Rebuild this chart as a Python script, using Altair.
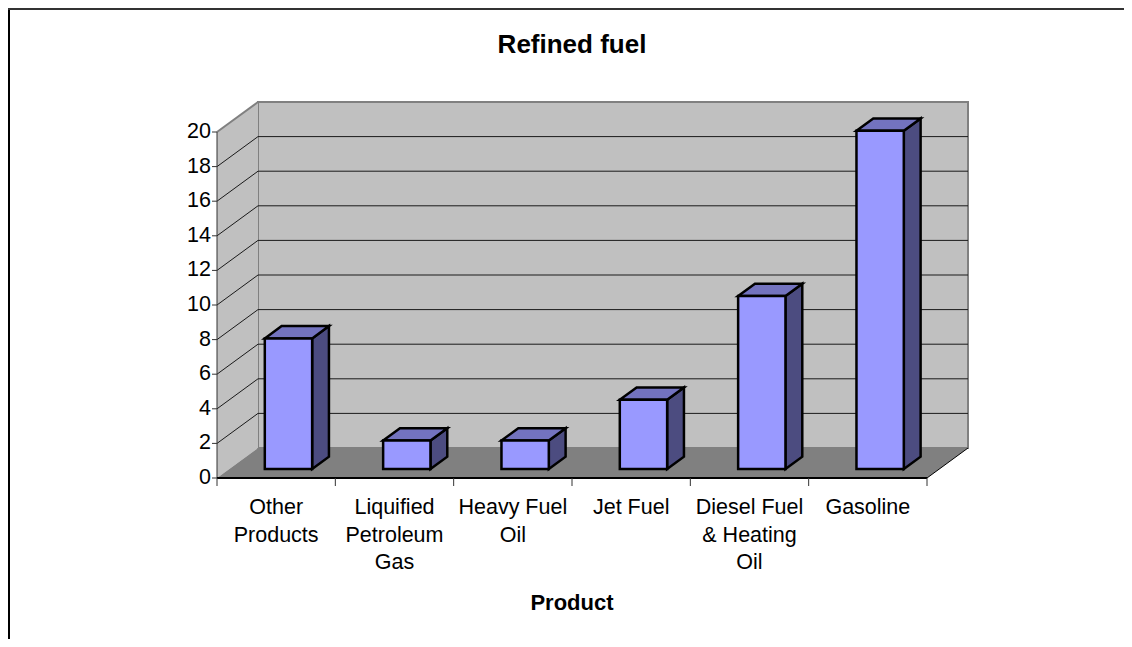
import altair as alt
import pandas as pd

# ---- data ----
categories = ["Other Products", "Liquified Petroleum Gas", "Heavy Fuel Oil",
              "Jet Fuel", "Diesel Fuel & Heating Oil", "Gasoline"]
label_text = ["Other\nProducts", "Liquified\nPetroleum\nGas", "Heavy Fuel\nOil",
              "Jet Fuel", "Diesel Fuel\n& Heating\nOil", "Gasoline"]
values = [7.55, 1.65, 1.65, 4.0, 10.0, 19.55]
y_ticks = [0, 2, 4, 6, 8, 10, 12, 14, 16, 18, 20]
grid_values = [2, 4, 6, 8, 10, 12, 14, 16, 18]
title_text = "Refined fuel"
x_title = "Product"

# ---- projection / style constants ----
N = len(categories)
YMAX = 20
DX = 0.3465   # wall depth along x (category units)
DY = 1.734    # wall depth along y (value units)
F0, F1 = 0.30, 0.71   # depth fraction of bar front / back faces
HALF = 0.2            # half bar width (category units)
W, H = 1116, 631
FONT = "Liberation Sans"

xs = alt.Scale(domain=[0, N], range=[209, 919], nice=False, zero=False)
ys = alt.Scale(domain=[0, YMAX], range=[470, 124], nice=False, zero=False)


def X(f):
    return alt.X(f, type="quantitative", scale=xs, axis=None)


def Y(f):
    return alt.Y(f, type="quantitative", scale=ys, axis=None)


one = pd.DataFrame({"z": [0]})

# frame (left + top border lines)
frame_left = alt.Chart(one).mark_rule(color="black", strokeWidth=2).encode(
    x=alt.value(1), y=alt.value(0), y2=alt.value(H))
frame_top = alt.Chart(one).mark_rule(color="#333333", strokeWidth=2).encode(
    y=alt.value(1), x=alt.value(0), x2=alt.value(W))

# back wall
back_df = pd.DataFrame({"x": [DX], "x2": [N + DX], "y": [DY], "y2": [YMAX + DY]})
back = alt.Chart(back_df).mark_rect(fill="#C0C0C0", stroke="#808080", strokeWidth=2).encode(
    x=X("x"), x2="x2", y=Y("y"), y2="y2")

# side wall
side_df = pd.DataFrame({"x": [0, DX], "lo": [0, DY], "hi": [YMAX, YMAX + DY]})
side = alt.Chart(side_df).mark_area(fill="#C0C0C0", orient="vertical").encode(
    x=X("x"), y=Y("lo"), y2="hi")
side_top = alt.Chart(pd.DataFrame({"x": [0], "x2": [DX], "y": [YMAX], "y2": [YMAX + DY]})).mark_rule(
    color="#808080", strokeWidth=2).encode(x=X("x"), x2="x2", y=Y("y"), y2="y2")

# floor
floor_df = pd.DataFrame({"y": [0, DY], "x": [0, DX], "x2": [N, N + DX]})
floor = alt.Chart(floor_df).mark_area(fill="#808080", orient="horizontal").encode(
    y=Y("y"), x=X("x"), x2="x2")
floor_edge = alt.Chart(pd.DataFrame({"x": [N], "x2": [N + DX], "y": [0], "y2": [DY]})).mark_rule(
    color="black", strokeWidth=1).encode(x=X("x"), x2="x2", y=Y("y"), y2="y2")

# gridlines on back wall and diagonals on side wall
grid_df = pd.DataFrame({"g": grid_values})
grid_df["gb"] = grid_df["g"] + DY
grid_df["x0"] = 0.0
grid_df["xb"] = DX
grid_df["xe"] = N + DX
grid_back = alt.Chart(grid_df).mark_rule(color="#1a1a1a", strokeWidth=1).encode(
    x=X("xb"), x2="xe", y=Y("gb"))
grid_side = alt.Chart(grid_df).mark_rule(color="#1a1a1a", strokeWidth=1).encode(
    x=X("x0"), x2="xb", y=Y("g"), y2="gb")

# y axis
yaxis_line = alt.Chart(pd.DataFrame({"x": [0], "y": [0], "y2": [YMAX]})).mark_rule(
    color="#333333", strokeWidth=1).encode(x=X("x"), y=Y("y"), y2="y2")
ytick_df = pd.DataFrame({"v": y_ticks, "z": [0] * len(y_ticks)})
ytick_df["lab"] = ytick_df["v"].astype(str)
yticks = alt.Chart(ytick_df).mark_rule(color="#333333", strokeWidth=1, x2Offset=-5).encode(
    x=X("z"), x2="z", y=Y("v"))
ylabels = alt.Chart(ytick_df).mark_text(
    align="right", baseline="middle", dx=-6, font=FONT, fontSize=21.5, color="black").encode(
    x=X("z"), y=Y("v"), text="lab:N")

# x axis
xaxis_line = alt.Chart(pd.DataFrame({"x": [0], "x2": [N], "y": [0]})).mark_rule(
    color="black", strokeWidth=2).encode(x=X("x"), x2="x2", y=Y("y"))
xtick_df = pd.DataFrame({"k": list(range(N + 1)), "z": [0] * (N + 1)})
xticks = alt.Chart(xtick_df).mark_rule(color="#333333", strokeWidth=1, y2Offset=8).encode(
    x=X("k"), y=Y("z"), y2="z")
lab_df = pd.DataFrame({"c": [i + 0.5 for i in range(N)], "z": [0] * N, "t": label_text})
xlabels = alt.Chart(lab_df).mark_text(
    align="center", baseline="top", dy=19, lineBreak="\n", lineHeight=27.5,
    font=FONT, fontSize=21.5, color="black").encode(x=X("c"), y=Y("z"), text="t:N")

xtitle = alt.Chart(pd.DataFrame({"c": [N / 2], "z": [0], "t": [x_title]})).mark_text(
    align="center", baseline="alphabetic", dy=132, font=FONT, fontSize=22,
    fontWeight="bold", color="black").encode(x=X("c"), y=Y("z"), text="t:N")
title = alt.Chart(pd.DataFrame({"c": [N / 2], "t": [title_text]})).mark_text(
    align="center", baseline="alphabetic", font=FONT, fontSize=26,
    fontWeight="bold", color="black").encode(x=X("c"), y=alt.value(45), text="t:N")

# bars
front_rows, side_rows, top_rows = [], [], []
for i, (cat, v) in enumerate(zip(categories, values)):
    xl = i + 0.5 - HALF + F0 * DX
    xr = i + 0.5 + HALF + F0 * DX
    sh = (F1 - F0) * DX
    front_rows.append({"bar": cat, "x": xl, "x2": xr, "y": F0 * DY, "y2": v + F0 * DY})
    side_rows.append({"bar": cat, "x": xr, "lo": F0 * DY, "hi": v + F0 * DY})
    side_rows.append({"bar": cat, "x": xr + sh, "lo": F1 * DY, "hi": v + F1 * DY})
    top_rows.append({"bar": cat, "y": v + F0 * DY, "xl": xl, "xr": xr})
    top_rows.append({"bar": cat, "y": v + F1 * DY, "xl": xl + sh, "xr": xr + sh})

front = alt.Chart(pd.DataFrame(front_rows)).mark_rect(
    fill="#9999FF", stroke="black", strokeWidth=2.5, strokeJoin="miter").encode(
    x=X("x"), x2="x2", y=Y("y"), y2="y2")
sidef = alt.Chart(pd.DataFrame(side_rows)).mark_area(
    orient="vertical", fill="#4C4C80", stroke="black", strokeWidth=2.5, strokeJoin="miter").encode(
    x=X("x"), y=Y("lo"), y2="hi", detail="bar:N")
topf = alt.Chart(pd.DataFrame(top_rows)).mark_area(
    orient="horizontal", fill="#7373BF", stroke="black", strokeWidth=2.5, strokeJoin="miter").encode(
    y=Y("y"), x=X("xl"), x2="xr", detail="bar:N")

chart = alt.layer(
    back, side, floor, grid_back, grid_side, side_top, floor_edge,
    yaxis_line, yticks, ylabels, xaxis_line, xticks, xlabels, xtitle, title,
    sidef, topf, front, frame_left, frame_top,
).properties(
    width=W, height=H, padding=0, autosize=alt.AutoSizeParams(type="none"),
    background="white",
).configure_view(stroke="transparent")

chart.save("out.html", embed_options={"renderer": "svg", "actions": False})
